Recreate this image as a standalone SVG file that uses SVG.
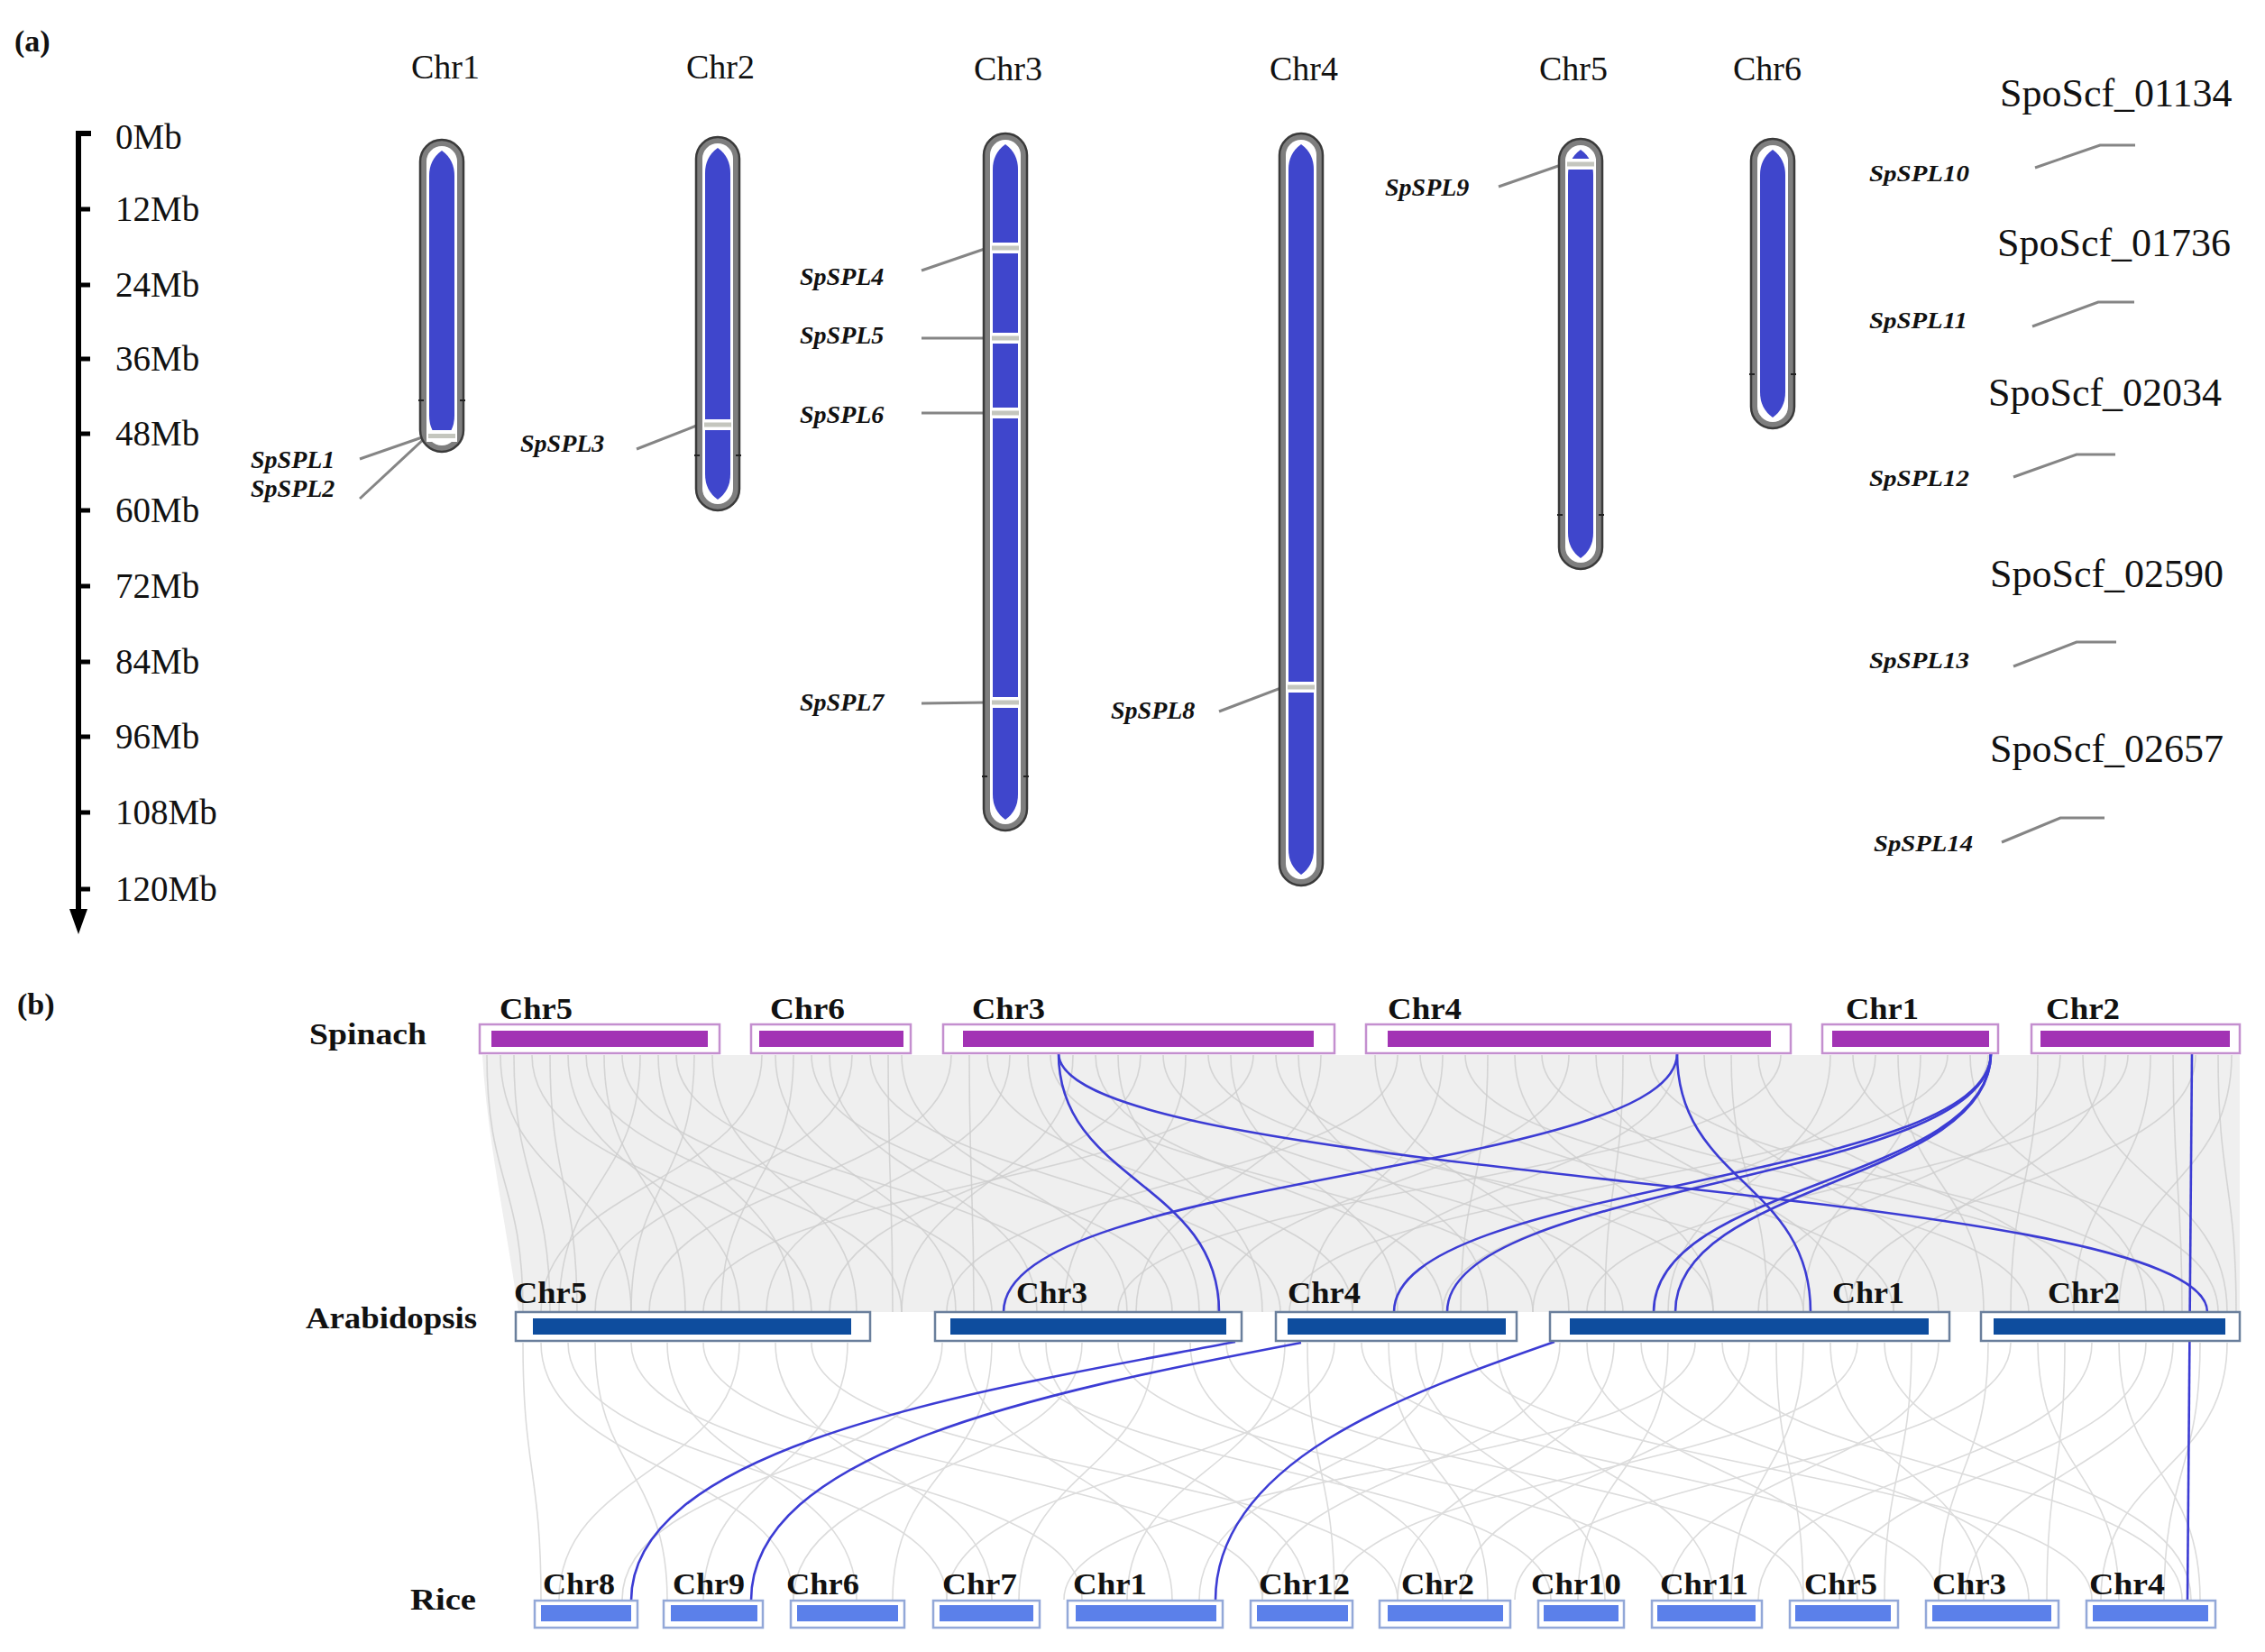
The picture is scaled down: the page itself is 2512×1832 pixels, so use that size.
<svg xmlns="http://www.w3.org/2000/svg" width="2512" height="1832" viewBox="0 0 2512 1832">
<style>
text{font-family:"Liberation Serif","Times New Roman",serif;fill:#111}
.pl{font-size:34px;font-weight:bold}
.ct{font-size:38px;text-anchor:middle}
.sc{font-size:39px}
.gn{font-size:28px;font-weight:bold;font-style:italic}
.gs{font-size:25px;font-weight:bold;font-style:italic}
.sf{font-size:44px}
.bl{font-size:33px;font-weight:bold}
.chro{fill:#7e7e7e;stroke:#3a3a3a;stroke-width:2.5}
.chrw{fill:#fff}
.chrb{fill:#3f46cc}
.mkw{fill:#fff}
.mkg{fill:#c4c6be}
.cen{stroke:#222;stroke-width:2}
.lead{stroke:#858585;stroke-width:3;fill:none}
.axis{stroke:#000;stroke-width:6;fill:none}
.gl1 path{stroke:#cdcdcd;stroke-width:1.6;fill:none;opacity:.8}
.gl2 path{stroke:#dcdcdc;stroke-width:1.6;fill:none}
.bl-link path,.bl-link line{stroke:#3c3cd4;stroke-width:2.6;fill:none}
.so{fill:#fff;stroke:#c48fcf;stroke-width:2.5}
.si{fill:#a233b4}
.ao{fill:#fff;stroke:#6a7f9c;stroke-width:2.5}
.ai{fill:#0e4d9e}
.ro{fill:#fff;stroke:#93a8d8;stroke-width:2.5}
.ri{fill:#5b80ea}
</style>

<!-- ================= Panel (a) ================= -->
<text class="pl" x="16" y="57">(a)</text>

<g id="scale-bar">
  <line class="axis" x1="87" y1="146" x2="87" y2="1015"/>
  <line class="axis" x1="84" y1="148" x2="101" y2="148"/>
  <g stroke="#000" stroke-width="5">
    <line x1="87" y1="232" x2="100" y2="232"/>
    <line x1="87" y1="316" x2="100" y2="316"/>
    <line x1="87" y1="398" x2="100" y2="398"/>
    <line x1="87" y1="481" x2="100" y2="481"/>
    <line x1="87" y1="566" x2="100" y2="566"/>
    <line x1="87" y1="650" x2="100" y2="650"/>
    <line x1="87" y1="734" x2="100" y2="734"/>
    <line x1="87" y1="817" x2="100" y2="817"/>
    <line x1="87" y1="901" x2="100" y2="901"/>
    <line x1="87" y1="986" x2="100" y2="986"/>
  </g>
  <polygon points="77,1008 97,1008 87,1036" fill="#000"/>
  <text class="sc" x="128" y="165">0Mb</text>
  <text class="sc" x="128" y="245">12Mb</text>
  <text class="sc" x="128" y="329">24Mb</text>
  <text class="sc" x="128" y="411">36Mb</text>
  <text class="sc" x="128" y="494">48Mb</text>
  <text class="sc" x="128" y="579">60Mb</text>
  <text class="sc" x="128" y="663">72Mb</text>
  <text class="sc" x="128" y="747">84Mb</text>
  <text class="sc" x="128" y="830">96Mb</text>
  <text class="sc" x="128" y="914">108Mb</text>
  <text class="sc" x="128" y="999">120Mb</text>
</g>

<g id="leaders">
  <line class="lead" x1="399" y1="509" x2="471" y2="484"/>
  <line class="lead" x1="399" y1="553" x2="471" y2="486"/>
  <line class="lead" x1="706" y1="498" x2="775" y2="471"/>
  <line class="lead" x1="1022" y1="300" x2="1095" y2="275"/>
  <line class="lead" x1="1022" y1="375" x2="1095" y2="375"/>
  <line class="lead" x1="1022" y1="458" x2="1095" y2="458"/>
  <line class="lead" x1="1022" y1="780" x2="1095" y2="779"/>
  <line class="lead" x1="1352" y1="789" x2="1423" y2="762"/>
  <line class="lead" x1="1662" y1="207" x2="1734" y2="182"/>
  <polyline class="lead" points="2257,186 2329,161 2368,161"/>
  <polyline class="lead" points="2254,362 2327,335 2367,335"/>
  <polyline class="lead" points="2233,529 2303,504 2346,504"/>
  <polyline class="lead" points="2233,739 2303,712 2347,712"/>
  <polyline class="lead" points="2220,934 2285,907 2334,907"/>
</g>

<g id="a-chr1">
  <text class="ct" x="494" y="87">Chr1</text>
  <rect class="chro" x="466" y="155" width="48" height="346" rx="24"/>
  <rect class="chrw" x="473" y="162" width="34" height="332" rx="17"/>
  <path class="chrb" d="M490,167 Q504,177 504,195 V461 Q504,479 490,489 Q476,479 476,461 V195 Q476,177 490,167 Z"/>
  <line class="cen" x1="464" y1="444" x2="470" y2="444"/><line class="cen" x1="510" y1="444" x2="516" y2="444"/>
  <rect class="mkw" x="473" y="477" width="34" height="13"/>
  <rect class="mkg" x="475" y="481" width="30" height="5"/>
  <text class="gn" x="278" y="519">SpSPL1</text>
  <text class="gn" x="278" y="551">SpSPL2</text>
</g>

<g id="a-chr2">
  <text class="ct" x="799" y="87">Chr2</text>
  <rect class="chro" x="772" y="152" width="48" height="414" rx="24"/>
  <rect class="chrw" x="779" y="159" width="34" height="400" rx="17"/>
  <path class="chrb" d="M796,164 Q810,174 810,192 V526 Q810,544 796,554 Q782,544 782,526 V192 Q782,174 796,164 Z"/>
  <line class="cen" x1="770" y1="505" x2="776" y2="505"/><line class="cen" x1="816" y1="505" x2="822" y2="505"/>
  <rect class="mkw" x="779" y="465" width="34" height="12"/>
  <rect class="mkg" x="781" y="468.5" width="30" height="5"/>
  <text class="gn" x="577" y="501">SpSPL3</text>
</g>

<g id="a-chr3">
  <text class="ct" x="1118" y="89">Chr3</text>
  <rect class="chro" x="1091" y="148" width="48" height="773" rx="24"/>
  <rect class="chrw" x="1098" y="155" width="34" height="759" rx="17"/>
  <path class="chrb" d="M1115,160 Q1129,170 1129,188 V881 Q1129,899 1115,909 Q1101,899 1101,881 V188 Q1101,170 1115,160 Z"/>
  <line class="cen" x1="1089" y1="861" x2="1095" y2="861"/><line class="cen" x1="1135" y1="861" x2="1141" y2="861"/>
  <rect class="mkw" x="1098" y="269" width="34" height="12"/><rect class="mkg" x="1100" y="272.5" width="30" height="5"/>
  <rect class="mkw" x="1098" y="369" width="34" height="12"/><rect class="mkg" x="1100" y="372.5" width="30" height="5"/>
  <rect class="mkw" x="1098" y="452" width="34" height="12"/><rect class="mkg" x="1100" y="455.5" width="30" height="5"/>
  <rect class="mkw" x="1098" y="773" width="34" height="12"/><rect class="mkg" x="1100" y="776.5" width="30" height="5"/>
  <text class="gn" x="887" y="316">SpSPL4</text>
  <text class="gn" x="887" y="381">SpSPL5</text>
  <text class="gn" x="887" y="469">SpSPL6</text>
  <text class="gn" x="887" y="788">SpSPL7</text>
</g>

<g id="a-chr4">
  <text class="ct" x="1446" y="89">Chr4</text>
  <rect class="chro" x="1419" y="148" width="48" height="834" rx="24"/>
  <rect class="chrw" x="1426" y="155" width="34" height="820" rx="17"/>
  <path class="chrb" d="M1443,160 Q1457,170 1457,188 V942 Q1457,960 1443,970 Q1429,960 1429,942 V188 Q1429,170 1443,160 Z"/>
  <rect class="mkw" x="1426" y="756" width="34" height="12"/><rect class="mkg" x="1428" y="759.5" width="30" height="5"/>
  <text class="gn" x="1232" y="797">SpSPL8</text>
</g>

<g id="a-chr5">
  <text class="ct" x="1745" y="89">Chr5</text>
  <rect class="chro" x="1729" y="154" width="48" height="477" rx="24"/>
  <rect class="chrw" x="1736" y="161" width="34" height="463" rx="17"/>
  <path class="chrb" d="M1753,166 Q1767,176 1767,194 V591 Q1767,609 1753,619 Q1739,609 1739,591 V194 Q1739,176 1753,166 Z"/>
  <line class="cen" x1="1727" y1="571" x2="1733" y2="571"/><line class="cen" x1="1773" y1="571" x2="1779" y2="571"/>
  <rect class="mkw" x="1736" y="176" width="34" height="12"/><rect class="mkg" x="1738" y="179.5" width="30" height="5"/>
  <text class="gn" x="1536" y="217">SpSPL9</text>
</g>

<g id="a-chr6">
  <text class="ct" x="1960" y="89">Chr6</text>
  <rect class="chro" x="1942" y="154" width="48" height="321" rx="24"/>
  <rect class="chrw" x="1949" y="161" width="34" height="307" rx="17"/>
  <path class="chrb" d="M1966,166 Q1980,176 1980,194 V435 Q1980,453 1966,463 Q1952,453 1952,435 V194 Q1952,176 1966,166 Z"/>
  <line class="cen" x1="1940" y1="415" x2="1946" y2="415"/><line class="cen" x1="1986" y1="415" x2="1992" y2="415"/>
</g>

<g id="a-scaffolds">
  <text class="sf" x="2218" y="118">SpoScf_01134</text>
  <text class="sf" x="2215" y="284">SpoScf_01736</text>
  <text class="sf" x="2205" y="450">SpoScf_02034</text>
  <text class="sf" x="2207" y="651">SpoScf_02590</text>
  <text class="sf" x="2207" y="845">SpoScf_02657</text>
  <text class="gs" x="2073" y="201" textLength="111" lengthAdjust="spacingAndGlyphs">SpSPL10</text>
  <text class="gs" x="2073" y="364" textLength="109" lengthAdjust="spacingAndGlyphs">SpSPL11</text>
  <text class="gs" x="2073" y="539" textLength="111" lengthAdjust="spacingAndGlyphs">SpSPL12</text>
  <text class="gs" x="2073" y="741" textLength="111" lengthAdjust="spacingAndGlyphs">SpSPL13</text>
  <text class="gs" x="2078" y="944" textLength="110" lengthAdjust="spacingAndGlyphs">SpSPL14</text>
</g>

<!-- ================= Panel (b) ================= -->
<text class="pl" x="19" y="1125">(b)</text>

<g id="connectors">
  <path d="M535,1170 L2484,1170 L2484,1455 L575,1455 C560,1350 540,1260 535,1170 Z" fill="#efefef"/>
  <g class="gl1">
    <path d="M540,1170 C540,1312 580,1312 580,1455"/>
    <path d="M555,1170 C555,1312 700,1312 700,1455"/>
    <path d="M570,1170 C570,1312 610,1312 610,1455"/>
    <path d="M590,1170 C590,1312 900,1312 900,1455"/>
    <path d="M610,1170 C610,1312 640,1312 640,1455"/>
    <path d="M630,1170 C630,1312 820,1312 820,1455"/>
    <path d="M650,1170 C650,1312 1000,1312 1000,1455"/>
    <path d="M670,1170 C670,1312 760,1312 760,1455"/>
    <path d="M690,1170 C690,1312 1100,1312 1100,1455"/>
    <path d="M710,1170 C710,1312 620,1312 620,1455"/>
    <path d="M730,1170 C730,1312 880,1312 880,1455"/>
    <path d="M750,1170 C750,1312 1200,1312 1200,1455"/>
    <path d="M770,1170 C770,1312 700,1312 700,1455"/>
    <path d="M790,1170 C790,1312 950,1312 950,1455"/>
    <path d="M845,1170 C845,1312 600,1312 600,1455"/>
    <path d="M860,1170 C860,1312 1060,1312 1060,1455"/>
    <path d="M880,1170 C880,1312 800,1312 800,1455"/>
    <path d="M900,1170 C900,1312 1300,1312 1300,1455"/>
    <path d="M920,1170 C920,1312 1150,1312 1150,1455"/>
    <path d="M945,1170 C945,1312 660,1312 660,1455"/>
    <path d="M965,1170 C965,1312 1420,1312 1420,1455"/>
    <path d="M985,1170 C985,1312 990,1312 990,1455"/>
    <path d="M1000,1170 C1000,1312 1250,1312 1250,1455"/>
    <path d="M1055,1170 C1055,1312 720,1312 720,1455"/>
    <path d="M1075,1170 C1075,1312 1080,1312 1080,1455"/>
    <path d="M1095,1170 C1095,1312 1500,1312 1500,1455"/>
    <path d="M1120,1170 C1120,1312 850,1312 850,1455"/>
    <path d="M1140,1170 C1140,1312 1330,1312 1330,1455"/>
    <path d="M1165,1170 C1165,1312 1700,1312 1700,1455"/>
    <path d="M1190,1170 C1190,1312 1000,1312 1000,1455"/>
    <path d="M1215,1170 C1215,1312 1600,1312 1600,1455"/>
    <path d="M1240,1170 C1240,1312 1400,1312 1400,1455"/>
    <path d="M1265,1170 C1265,1312 920,1312 920,1455"/>
    <path d="M1290,1170 C1290,1312 1800,1312 1800,1455"/>
    <path d="M1315,1170 C1315,1312 1180,1312 1180,1455"/>
    <path d="M1340,1170 C1340,1312 2000,1312 2000,1455"/>
    <path d="M1365,1170 C1365,1312 1550,1312 1550,1455"/>
    <path d="M1390,1170 C1390,1312 780,1312 780,1455"/>
    <path d="M1415,1170 C1415,1312 1900,1312 1900,1455"/>
    <path d="M1440,1170 C1440,1312 1650,1312 1650,1455"/>
    <path d="M1465,1170 C1465,1312 1260,1312 1260,1455"/>
    <path d="M1525,1170 C1525,1312 1740,1312 1740,1455"/>
    <path d="M1550,1170 C1550,1312 1050,1312 1050,1455"/>
    <path d="M1575,1170 C1575,1312 2100,1312 2100,1455"/>
    <path d="M1600,1170 C1600,1312 1450,1312 1450,1455"/>
    <path d="M1625,1170 C1625,1312 2250,1312 2250,1455"/>
    <path d="M1650,1170 C1650,1312 1620,1312 1620,1455"/>
    <path d="M1680,1170 C1680,1312 1900,1312 1900,1455"/>
    <path d="M1710,1170 C1710,1312 2350,1312 2350,1455"/>
    <path d="M1740,1170 C1740,1312 1350,1312 1350,1455"/>
    <path d="M1770,1170 C1770,1312 2050,1312 2050,1455"/>
    <path d="M1800,1170 C1800,1312 1780,1312 1780,1455"/>
    <path d="M1830,1170 C1830,1312 2400,1312 2400,1455"/>
    <path d="M1860,1170 C1860,1312 1500,1312 1500,1455"/>
    <path d="M1890,1170 C1890,1312 2150,1312 2150,1455"/>
    <path d="M1920,1170 C1920,1312 1960,1312 1960,1455"/>
    <path d="M1950,1170 C1950,1312 2300,1312 2300,1455"/>
    <path d="M1975,1170 C1975,1312 1240,1312 1240,1455"/>
    <path d="M2030,1170 C2030,1312 1850,1312 1850,1455"/>
    <path d="M2055,1170 C2055,1312 2460,1312 2460,1455"/>
    <path d="M2080,1170 C2080,1312 1700,1312 1700,1455"/>
    <path d="M2105,1170 C2105,1312 2200,1312 2200,1455"/>
    <path d="M2130,1170 C2130,1312 2000,1312 2000,1455"/>
    <path d="M2160,1170 C2160,1312 1430,1312 1430,1455"/>
    <path d="M2185,1170 C2185,1312 2380,1312 2380,1455"/>
    <path d="M2205,1170 C2205,1312 1600,1312 1600,1455"/>
    <path d="M2260,1170 C2260,1312 2230,1312 2230,1455"/>
    <path d="M2285,1170 C2285,1312 1950,1312 1950,1455"/>
    <path d="M2310,1170 C2310,1312 2470,1312 2470,1455"/>
    <path d="M2335,1170 C2335,1312 2100,1312 2100,1455"/>
    <path d="M2360,1170 C2360,1312 1760,1312 1760,1455"/>
    <path d="M2385,1170 C2385,1312 2300,1312 2300,1455"/>
    <path d="M2410,1170 C2410,1312 2420,1312 2420,1455"/>
    <path d="M2435,1170 C2435,1312 2050,1312 2050,1455"/>
    <path d="M2460,1170 C2460,1312 2480,1312 2480,1455"/>
    <path d="M2475,1170 C2475,1312 2350,1312 2350,1455"/>
  </g>
  <g class="gl2">
    <path d="M580,1489 C580,1631 600,1631 600,1774"/>
    <path d="M600,1489 C600,1631 880,1631 880,1774"/>
    <path d="M630,1489 C630,1631 1050,1631 1050,1774"/>
    <path d="M660,1489 C660,1631 740,1631 740,1774"/>
    <path d="M700,1489 C700,1631 1200,1631 1200,1774"/>
    <path d="M740,1489 C740,1631 950,1631 950,1774"/>
    <path d="M780,1489 C780,1631 1400,1631 1400,1774"/>
    <path d="M820,1489 C820,1631 620,1631 620,1774"/>
    <path d="M860,1489 C860,1631 1100,1631 1100,1774"/>
    <path d="M900,1489 C900,1631 1550,1631 1550,1774"/>
    <path d="M940,1489 C940,1631 780,1631 780,1774"/>
    <path d="M1045,1489 C1045,1631 690,1631 690,1774"/>
    <path d="M1070,1489 C1070,1631 1300,1631 1300,1774"/>
    <path d="M1100,1489 C1100,1631 990,1631 990,1774"/>
    <path d="M1130,1489 C1130,1631 1720,1631 1720,1774"/>
    <path d="M1160,1489 C1160,1631 1450,1631 1450,1774"/>
    <path d="M1200,1489 C1200,1631 880,1631 880,1774"/>
    <path d="M1240,1489 C1240,1631 1850,1631 1850,1774"/>
    <path d="M1280,1489 C1280,1631 1130,1631 1130,1774"/>
    <path d="M1320,1489 C1320,1631 1600,1631 1600,1774"/>
    <path d="M1360,1489 C1360,1631 2000,1631 2000,1774"/>
    <path d="M1425,1489 C1425,1631 1250,1631 1250,1774"/>
    <path d="M1450,1489 C1450,1631 1480,1631 1480,1774"/>
    <path d="M1480,1489 C1480,1631 1050,1631 1050,1774"/>
    <path d="M1510,1489 C1510,1631 2150,1631 2150,1774"/>
    <path d="M1540,1489 C1540,1631 1650,1631 1650,1774"/>
    <path d="M1570,1489 C1570,1631 1780,1631 1780,1774"/>
    <path d="M1600,1489 C1600,1631 1330,1631 1330,1774"/>
    <path d="M1630,1489 C1630,1631 2320,1631 2320,1774"/>
    <path d="M1660,1489 C1660,1631 1900,1631 1900,1774"/>
    <path d="M1730,1489 C1730,1631 1400,1631 1400,1774"/>
    <path d="M1760,1489 C1760,1631 2060,1631 2060,1774"/>
    <path d="M1790,1489 C1790,1631 1550,1631 1550,1774"/>
    <path d="M1820,1489 C1820,1631 2250,1631 2250,1774"/>
    <path d="M1850,1489 C1850,1631 1750,1631 1750,1774"/>
    <path d="M1880,1489 C1880,1631 1180,1631 1180,1774"/>
    <path d="M1910,1489 C1910,1631 2420,1631 2420,1774"/>
    <path d="M1940,1489 C1940,1631 1620,1631 1620,1774"/>
    <path d="M1970,1489 C1970,1631 2000,1631 2000,1774"/>
    <path d="M2000,1489 C2000,1631 1920,1631 1920,1774"/>
    <path d="M2030,1489 C2030,1631 2200,1631 2200,1774"/>
    <path d="M2060,1489 C2060,1631 1480,1631 1480,1774"/>
    <path d="M2090,1489 C2090,1631 2430,1631 2430,1774"/>
    <path d="M2120,1489 C2120,1631 2090,1631 2090,1774"/>
    <path d="M2150,1489 C2150,1631 1850,1631 1850,1774"/>
    <path d="M2205,1489 C2205,1631 2150,1631 2150,1774"/>
    <path d="M2230,1489 C2230,1631 1680,1631 1680,1774"/>
    <path d="M2260,1489 C2260,1631 2350,1631 2350,1774"/>
    <path d="M2290,1489 C2290,1631 2270,1631 2270,1774"/>
    <path d="M2320,1489 C2320,1631 1950,1631 1950,1774"/>
    <path d="M2350,1489 C2350,1631 2440,1631 2440,1774"/>
    <path d="M2380,1489 C2380,1631 2040,1631 2040,1774"/>
    <path d="M2410,1489 C2410,1631 2180,1631 2180,1774"/>
    <path d="M2440,1489 C2440,1631 2400,1631 2400,1774"/>
    <path d="M2470,1489 C2470,1631 2330,1631 2330,1774"/>
  </g>
  <g class="bl-link">
    <path d="M1174,1168 C1174,1311 1352,1311 1352,1455"/>
    <path d="M1174,1168 C1174,1311 2448,1311 2448,1455"/>
    <path d="M1860,1168 C1860,1302 1113,1302 1113,1455"/>
    <path d="M1860,1168 C1860,1311 2008,1311 2008,1455"/>
    <path d="M2208,1168 C2208,1311 1546,1311 1546,1455"/>
    <path d="M2208,1168 C2208,1311 1605,1311 1605,1455"/>
    <path d="M2208,1168 C2208,1311 1834,1311 1834,1455"/>
    <path d="M2208,1168 C2208,1311 1858,1311 1858,1455"/>
    <line x1="2431" y1="1168" x2="2426" y2="1775"/>
    <path d="M1370,1488 C1100,1540 700,1600 700,1775"/>
    <path d="M1443,1489 C1150,1545 833,1610 833,1775"/>
    <path d="M1724,1488 C1560,1545 1348,1620 1348,1775"/>
  </g>
</g>

<g id="row-spinach">
  <text class="bl" x="343" y="1158" textLength="130" lengthAdjust="spacingAndGlyphs">Spinach</text>
  <g id="sp-chr5"><rect class="so" x="532" y="1136" width="266" height="32"/><rect class="si" x="545" y="1143" width="240" height="18"/><text class="bl" x="554" y="1130" textLength="81" lengthAdjust="spacingAndGlyphs">Chr5</text></g>
  <g id="sp-chr6"><rect class="so" x="833" y="1136" width="177" height="32"/><rect class="si" x="842" y="1143" width="160" height="18"/><text class="bl" x="854" y="1130" textLength="83" lengthAdjust="spacingAndGlyphs">Chr6</text></g>
  <g id="sp-chr3"><rect class="so" x="1046" y="1136" width="434" height="32"/><rect class="si" x="1068" y="1143" width="389" height="18"/><text class="bl" x="1078" y="1130" textLength="81" lengthAdjust="spacingAndGlyphs">Chr3</text></g>
  <g id="sp-chr4"><rect class="so" x="1515" y="1136" width="471" height="32"/><rect class="si" x="1539" y="1143" width="425" height="18"/><text class="bl" x="1539" y="1130" textLength="82" lengthAdjust="spacingAndGlyphs">Chr4</text></g>
  <g id="sp-chr1"><rect class="so" x="2021" y="1136" width="195" height="32"/><rect class="si" x="2032" y="1143" width="174" height="18"/><text class="bl" x="2047" y="1130" textLength="81" lengthAdjust="spacingAndGlyphs">Chr1</text></g>
  <g id="sp-chr2"><rect class="so" x="2253" y="1136" width="231" height="32"/><rect class="si" x="2263" y="1143" width="210" height="18"/><text class="bl" x="2269" y="1130" textLength="82" lengthAdjust="spacingAndGlyphs">Chr2</text></g>
</g>

<g id="row-arabidopsis">
  <text class="bl" x="339" y="1473" textLength="190" lengthAdjust="spacingAndGlyphs">Arabidopsis</text>
  <g id="at-chr5"><rect class="ao" x="572" y="1455" width="393" height="32"/><rect class="ai" x="591" y="1462" width="353" height="18"/><text class="bl" x="570" y="1445" textLength="81" lengthAdjust="spacingAndGlyphs">Chr5</text></g>
  <g id="at-chr3"><rect class="ao" x="1037" y="1455" width="340" height="32"/><rect class="ai" x="1054" y="1462" width="306" height="18"/><text class="bl" x="1127" y="1445" textLength="79" lengthAdjust="spacingAndGlyphs">Chr3</text></g>
  <g id="at-chr4"><rect class="ao" x="1415" y="1455" width="267" height="32"/><rect class="ai" x="1428" y="1462" width="242" height="18"/><text class="bl" x="1428" y="1445" textLength="81" lengthAdjust="spacingAndGlyphs">Chr4</text></g>
  <g id="at-chr1"><rect class="ao" x="1719" y="1455" width="443" height="32"/><rect class="ai" x="1741" y="1462" width="398" height="18"/><text class="bl" x="2032" y="1445" textLength="80" lengthAdjust="spacingAndGlyphs">Chr1</text></g>
  <g id="at-chr2"><rect class="ao" x="2197" y="1455" width="287" height="32"/><rect class="ai" x="2211" y="1462" width="257" height="18"/><text class="bl" x="2271" y="1445" textLength="80" lengthAdjust="spacingAndGlyphs">Chr2</text></g>
</g>

<g id="row-rice">
  <text class="bl" x="455" y="1785" textLength="73" lengthAdjust="spacingAndGlyphs">Rice</text>
  <g id="os-chr8"><rect class="ro" x="593" y="1775" width="114" height="30"/><rect class="ri" x="600" y="1780" width="100" height="18"/><text class="bl" x="602" y="1768" textLength="80" lengthAdjust="spacingAndGlyphs">Chr8</text></g>
  <g id="os-chr9"><rect class="ro" x="736" y="1775" width="110" height="30"/><rect class="ri" x="744" y="1780" width="96" height="18"/><text class="bl" x="746" y="1768" textLength="80" lengthAdjust="spacingAndGlyphs">Chr9</text></g>
  <g id="os-chr6"><rect class="ro" x="877" y="1775" width="126" height="30"/><rect class="ri" x="884" y="1780" width="112" height="18"/><text class="bl" x="872" y="1768" textLength="81" lengthAdjust="spacingAndGlyphs">Chr6</text></g>
  <g id="os-chr7"><rect class="ro" x="1035" y="1775" width="118" height="30"/><rect class="ri" x="1042" y="1780" width="104" height="18"/><text class="bl" x="1045" y="1768" textLength="83" lengthAdjust="spacingAndGlyphs">Chr7</text></g>
  <g id="os-chr1"><rect class="ro" x="1184" y="1775" width="172" height="30"/><rect class="ri" x="1193" y="1780" width="156" height="18"/><text class="bl" x="1190" y="1768" textLength="82" lengthAdjust="spacingAndGlyphs">Chr1</text></g>
  <g id="os-chr12"><rect class="ro" x="1387" y="1775" width="113" height="30"/><rect class="ri" x="1394" y="1780" width="101" height="18"/><text class="bl" x="1396" y="1768" textLength="101" lengthAdjust="spacingAndGlyphs">Chr12</text></g>
  <g id="os-chr2"><rect class="ro" x="1530" y="1775" width="145" height="30"/><rect class="ri" x="1539" y="1780" width="128" height="18"/><text class="bl" x="1554" y="1768" textLength="81" lengthAdjust="spacingAndGlyphs">Chr2</text></g>
  <g id="os-chr10"><rect class="ro" x="1706" y="1775" width="95" height="30"/><rect class="ri" x="1712" y="1780" width="83" height="18"/><text class="bl" x="1698" y="1768" textLength="100" lengthAdjust="spacingAndGlyphs">Chr10</text></g>
  <g id="os-chr11"><rect class="ro" x="1832" y="1775" width="122" height="30"/><rect class="ri" x="1838" y="1780" width="109" height="18"/><text class="bl" x="1841" y="1768" textLength="98" lengthAdjust="spacingAndGlyphs">Chr11</text></g>
  <g id="os-chr5"><rect class="ro" x="1985" y="1775" width="120" height="30"/><rect class="ri" x="1991" y="1780" width="106" height="18"/><text class="bl" x="2001" y="1768" textLength="81" lengthAdjust="spacingAndGlyphs">Chr5</text></g>
  <g id="os-chr3"><rect class="ro" x="2136" y="1775" width="147" height="30"/><rect class="ri" x="2143" y="1780" width="132" height="18"/><text class="bl" x="2143" y="1768" textLength="82" lengthAdjust="spacingAndGlyphs">Chr3</text></g>
  <g id="os-chr4"><rect class="ro" x="2314" y="1775" width="143" height="30"/><rect class="ri" x="2321" y="1780" width="128" height="18"/><text class="bl" x="2317" y="1768" textLength="84" lengthAdjust="spacingAndGlyphs">Chr4</text></g>
</g>
</svg>
